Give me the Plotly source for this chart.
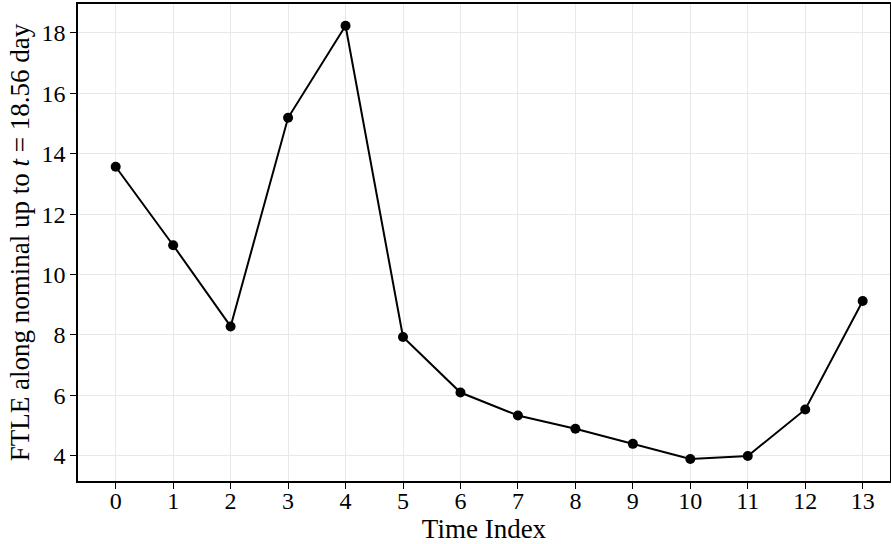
import plotly.graph_objects as go

time_index = [0, 1, 2, 3, 4, 5, 6, 7, 8, 9, 10, 11, 12, 13]
ftle = [13.57, 10.97, 8.28, 15.19, 18.24, 7.93, 6.09, 5.33, 4.89, 4.39, 3.89, 3.99, 5.53, 9.12]
x_ticks = list(range(14))
y_ticks = [4, 6, 8, 10, 12, 14, 16, 18]

font = "Liberation Serif"

fig = go.Figure(go.Scatter(
    x=time_index, y=ftle, mode="lines+markers",
    line=dict(color="black", width=2),
    marker=dict(color="black", size=10),
    showlegend=False,
))

fig.update_layout(
    width=891, height=544,
    margin=dict(l=78, r=1, t=4, b=63, autoexpand=False),
    paper_bgcolor="white", plot_bgcolor="white",
    font=dict(family=font, size=24, color="black"),
)
fig.update_xaxes(
    range=[-0.656, 13.475], tickvals=x_ticks, automargin=False,
    showline=True, linecolor="black", linewidth=1.5, mirror=True,
    ticks="outside", ticklen=6, tickcolor="black", ticklabelstandoff=-9,
    showgrid=True, gridcolor="#e8e8e8", gridwidth=1, zeroline=False,
    title=dict(text="Time Index", standoff=5, font=dict(family=font, size=27)),
    tickfont=dict(family=font, size=24),
)
fig.update_yaxes(
    range=[3.16, 18.96], tickvals=y_ticks, automargin=False,
    showline=True, linecolor="black", linewidth=1.5, mirror=True,
    ticks="outside", ticklen=6, tickcolor="black",
    showgrid=True, gridcolor="#e8e8e8", gridwidth=1, zeroline=False,
    title=dict(text="FTLE along nominal up to <i>t</i> = 18.56 day", standoff=4, font=dict(family=font, size=27)),
    tickfont=dict(family=font, size=24),
)

fig.write_html(
    "out.html",
    config={"displayModeBar": False},
    post_script="document.body.style.margin='0';document.body.style.overflow='hidden';",
)
